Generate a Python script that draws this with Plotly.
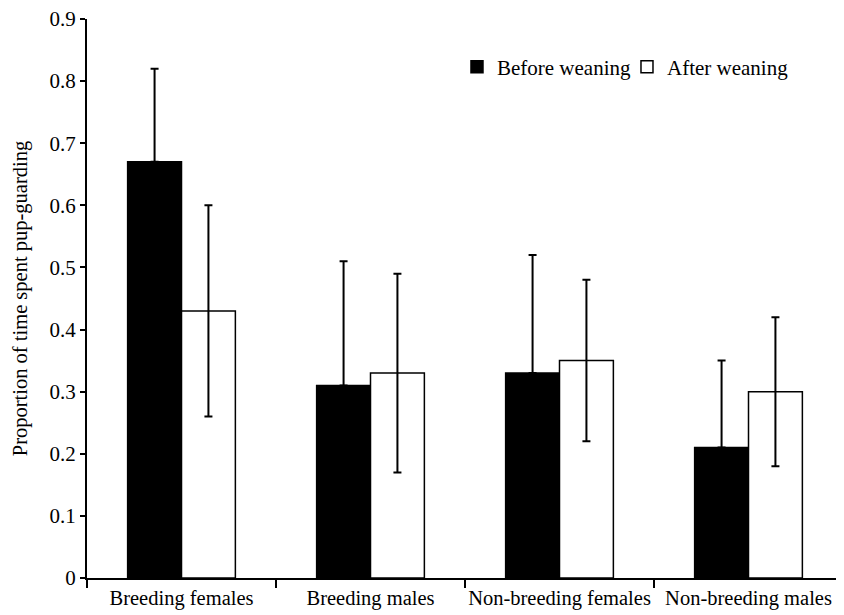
import plotly.graph_objects as go

categories = ["Breeding females", "Breeding males", "Non-breeding females", "Non-breeding males"]
before = [0.67, 0.31, 0.33, 0.21]
before_err = [0.15, 0.20, 0.19, 0.14]
after = [0.43, 0.33, 0.35, 0.30]
after_err = [0.17, 0.16, 0.13, 0.12]
zeros = [0, 0, 0, 0]

font = "Liberation Serif, Times New Roman, serif"

fig = go.Figure()
fig.add_trace(go.Bar(
    x=categories, y=before, name="Before weaning",
    marker=dict(color="black", line=dict(color="black", width=1.5)),
    error_y=dict(type="data", symmetric=False, array=before_err, arrayminus=zeros,
                 color="black", thickness=2, width=4),
))
fig.add_trace(go.Bar(
    x=categories, y=after, name="After weaning",
    marker=dict(color="white", line=dict(color="black", width=1.5)),
    error_y=dict(type="data", array=after_err, color="black", thickness=2, width=4),
))

fig.update_layout(
    width=844, height=615,
    paper_bgcolor="white", plot_bgcolor="white",
    margin=dict(l=79, r=9, t=11, b=45, autoexpand=False),
    barmode="group", bargap=0.43, bargroupgap=0,
    font=dict(family=font, color="black", size=21),
    legend=dict(orientation="h", x=0.4894, y=0.914, xanchor="left", yanchor="middle",
                font=dict(size=21, family=font), bgcolor="rgba(0,0,0,0)",
                itemwidth=30, traceorder="normal", entrywidthmode="pixels", entrywidth=125),
    xaxis=dict(showline=True, linecolor="black", linewidth=2, ticks="outside",
               tickson="boundaries", ticklen=8, tickwidth=2, tickcolor="black",
               tickangle=0, tickfont=dict(size=20.5, family=font),
               showgrid=False, zeroline=False),
    yaxis=dict(range=[0, 0.9], dtick=0.1, tickformat="~g", showline=True, linecolor="black",
               linewidth=2, ticks="outside", ticklen=5, tickwidth=2, tickcolor="black",
               ticklabeloverflow="allow",
               showgrid=False, zeroline=False, tickfont=dict(size=21, family=font),
               title=dict(text="Proportion of time spent pup-guarding",
                          font=dict(size=20.5, family=font), standoff=16)),
)

fig.write_html("out.html")
